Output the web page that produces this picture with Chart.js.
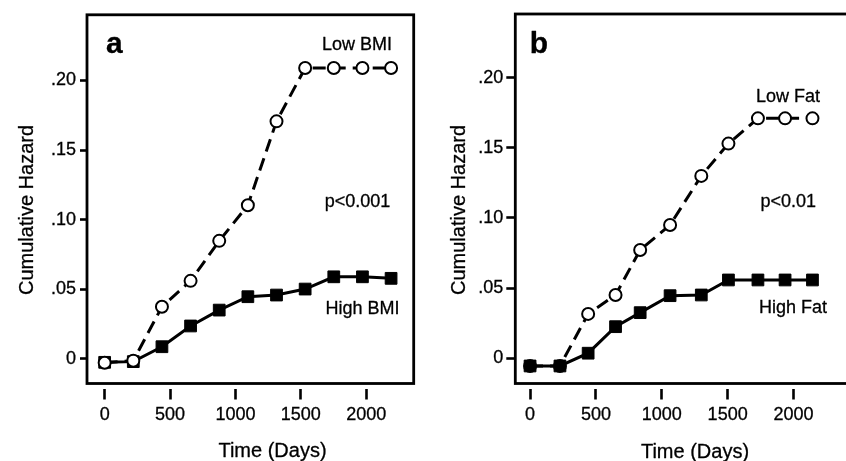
<!DOCTYPE html>
<html><head><meta charset="utf-8">
<script src="https://cdn.jsdelivr.net/npm/chart.js@4.4.1/dist/chart.umd.min.js"></script>
<style>
html,body{margin:0;padding:0;background:#fff;width:846px;height:461px;overflow:hidden;position:relative}
canvas{position:absolute;top:0}
#ca{left:0}
#cb{left:423px}
</style></head><body>
<canvas id="ca" width="423" height="461"></canvas>
<canvas id="cb" width="440" height="461"></canvas>
<script>
// ---- data ----
const daysA   = [0, 219, 438, 657, 876, 1095, 1314, 1533, 1752, 1971, 2190];
const lowBMI  = [-0.0027, -0.0012, 0.0375, 0.0561, 0.0848, 0.1104, 0.1706, 0.2089, 0.2089, 0.2089, 0.2089];
const highBMI = [-0.0024, -0.0019, 0.0088, 0.0237, 0.0351, 0.0447, 0.0459, 0.0502, 0.0590, 0.0590, 0.0579];

const daysB   = [0, 227, 441, 649, 836, 1063, 1300, 1506, 1730, 1936, 2144];
const lowFat  = [-0.0055, -0.0055, 0.0316, 0.0451, 0.0772, 0.0950, 0.1300, 0.1530, 0.1710, 0.1710, 0.1710];
const highFat = [-0.0055, -0.0055, 0.0036, 0.0225, 0.0325, 0.0446, 0.0451, 0.0558, 0.0558, 0.0558, 0.0558];

const yTickValues = [0, 0.05, 0.10, 0.15, 0.20];
const yTickLabels = ['0', '.05', '.10', '.15', '.20'];
const xTickValues = [0, 500, 1000, 1500, 2000];
const xTickLabels = ['0', '500', '1000', '1500', '2000'];

const FONT = '"Liberation Sans", Arial, Helvetica, sans-serif';
Chart.defaults.font.family = FONT;
Chart.defaults.color = '#000';

const framePlugin = {
  id: 'frameText',
  afterDraw(chart, args, o) {
    const {ctx, chartArea: a} = chart;
    ctx.save();
    ctx.lineWidth = o.frameWidth;
    ctx.strokeStyle = '#000';
    ctx.strokeRect(a.left, a.top, a.right - a.left, a.bottom - a.top);
    ctx.fillStyle = '#000';
    ctx.lineWidth = 0.3;
    ctx.lineJoin = 'round';
    for (const t of o.texts) {
      ctx.save();
      ctx.font = t.font + ' ' + FONT;
      ctx.textAlign = t.align || 'center';
      ctx.textBaseline = 'alphabetic';
      ctx.translate(t.x, t.y);
      if (t.rot) ctx.rotate(t.rot);
      ctx.fillText(t.text, 0, 0);
      ctx.strokeText(t.text, 0, 0);
      ctx.restore();
    }
    ctx.restore();
  }
};

function pts(xs, ys) { return xs.map((x, i) => ({x: x, y: ys[i]})); }

function openSeries(label, xs, ys) {
  return {
    label, data: pts(xs, ys),
    borderColor: '#000', borderWidth: 3, borderDash: [13, 7],
    pointStyle: 'circle', pointRadius: 6, pointBorderWidth: 2,
    pointBackgroundColor: '#fff', pointBorderColor: '#000',
    tension: 0, fill: false
  };
}
function filledSeries(label, xs, ys) {
  return {
    label, data: pts(xs, ys),
    borderColor: '#000', borderWidth: 3,
    pointStyle: 'rect', pointRadius: 8.3, pointBorderWidth: 1,
    pointBackgroundColor: '#000', pointBorderColor: '#000',
    tension: 0, fill: false
  };
}

function makePanel(id, p, datasets) {
  return new Chart(document.getElementById(id), {
    type: 'line',
    data: {datasets},
    options: {
      responsive: false, maintainAspectRatio: false, animation: false,
      devicePixelRatio: 1,
      layout: {padding: {top: p.top, right: p.padRight, bottom: 0, left: 0}},
      plugins: {
        legend: {display: false}, tooltip: {enabled: false},
        frameText: {frameWidth: 2.8, texts: p.texts}
      },
      scales: {
        x: {
          type: 'linear', position: 'bottom', min: p.xMin, max: p.xMax,
          afterBuildTicks: s => { s.ticks = xTickValues.map(v => ({value: v})); },
          afterFit: s => { s.height = 461 - p.bottom; },
          border: {display: false},
          grid: {drawOnChartArea: false, drawTicks: true, tickLength: 16, tickWidth: 2.6, tickColor: '#000',
                 tickBorderDash: [11, 5], tickBorderDashOffset: 11},
          ticks: {padding: 5, font: {size: 18}, color: '#000', maxRotation: 0,
                  textStrokeWidth: 0.3, textStrokeColor: '#000',
                  callback: (v, i) => xTickLabels[i]}
        },
        y: {
          type: 'linear', position: 'left', min: p.yMin, max: p.yMax,
          afterBuildTicks: s => { s.ticks = yTickValues.map(v => ({value: v})); },
          afterFit: s => { s.width = p.left; },
          border: {display: false},
          grid: {drawOnChartArea: false, drawTicks: true, tickLength: p.yTick, tickWidth: 2.6, tickColor: '#000'},
          ticks: {padding: p.yPad, font: {size: 18}, color: '#000',
                  textStrokeWidth: 0.3, textStrokeColor: '#000',
                  callback: (v, i) => yTickLabels[i]}
        }
      }
    },
    plugins: [framePlugin]
  });
}

// Panel a: open circles drawn on top of squares
makePanel('ca', {
  top: 14, bottom: 383.5, left: 87, padRight: 2.5,
  xMin: -135, xMax: 2363, yMin: -0.0176, yMax: 0.2471, yTick: 7, yPad: 4,
  texts: [
    {text: 'Cumulative Hazard', x: 33, y: 210, rot: -Math.PI / 2, font: '20px'},
    {text: 'Time (Days)', x: 272.5, y: 457, font: '20px'},
    {text: 'a', x: 106, y: 53, align: 'left', font: 'bold 30px'},
    {text: 'Low BMI', x: 357, y: 50, font: '18px'},
    {text: 'p<0.001', x: 357.5, y: 207, font: '18px'},
    {text: 'High BMI', x: 362.5, y: 314, font: '18px'}
  ]
}, [openSeries('Low BMI', daysA, lowBMI), filledSeries('High BMI', daysA, highBMI)]);

// Panel b: squares drawn on top of circles; frame continues past the right edge
makePanel('cb', {
  top: 14, bottom: 383.5, left: 92.3, padRight: 4,
  xMin: -112, xMax: 2457, yMin: -0.018, yMax: 0.2454, yTick: 9, yPad: 3,
  texts: [
    {text: 'Cumulative Hazard', x: 42, y: 210, rot: -Math.PI / 2, font: '20px'},
    {text: 'Time (Days)', x: 272, y: 458, font: '20px'},
    {text: 'b', x: 106.7, y: 53, align: 'left', font: 'bold 30px'},
    {text: 'Low Fat', x: 365, y: 101.5, font: '18px'},
    {text: 'p<0.01', x: 365.3, y: 206.5, font: '18px'},
    {text: 'High Fat', x: 370, y: 313, font: '18px'}
  ]
}, [filledSeries('High Fat', daysB, highFat), openSeries('Low Fat', daysB, lowFat)]);
</script>
</body></html>
